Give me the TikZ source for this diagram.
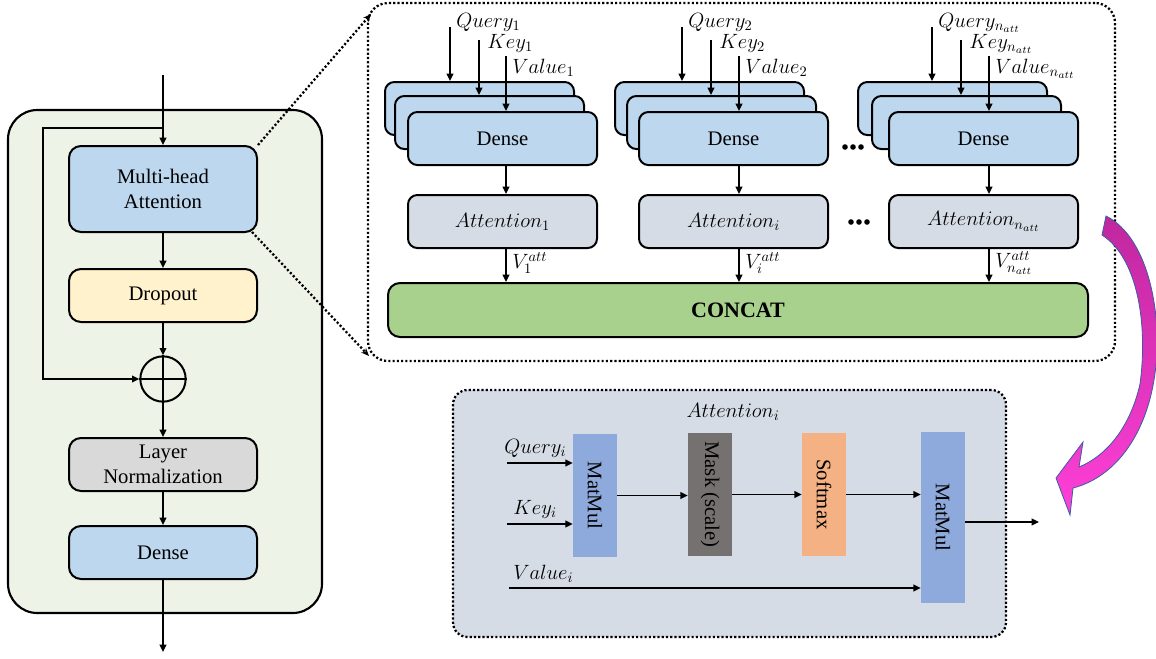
\RequirePackage{fix-cm}
\documentclass[tikz,border=0pt]{standalone}
\usepackage{fontspec}
\setmainfont{Liberation Serif}
\usepackage{graphicx}
\usetikzlibrary{arrows.meta,fit,calc}

\definecolor{panelgreen}{HTML}{EEF3E8}
\definecolor{denseblue}{HTML}{BDD7EE}
\definecolor{dropyellow}{HTML}{FFF2CC}
\definecolor{normgray}{HTML}{D9D9D9}
\definecolor{attgray}{HTML}{D6DCE5}
\definecolor{concatgreen}{HTML}{A9D18E}
\definecolor{matblue}{HTML}{8EA9DB}
\definecolor{maskgray}{HTML}{767171}
\definecolor{softorange}{HTML}{F4B183}
\definecolor{swooshtop}{HTML}{C0279E}
\definecolor{swooshbot}{HTML}{FF40D8}
\definecolor{swooshedge}{HTML}{3B5BA5}

\newcommand\bodyfont{\fontsize{15.5}{19}\selectfont}
\newcommand\catfont{\fontsize{16.5}{19}\selectfont\bfseries}

\tikzset{
  blk/.style={draw, line width=1.5pt, rounded corners=9pt, inner sep=0pt},
  dbox/.style={blk, fill=denseblue, rounded corners=7pt},
  abox/.style={blk, fill=attgray, rounded corners=7pt},
  sbox/.style={inner sep=0pt},
  arr/.style={line width=1.3pt, -{Triangle[length=5.5pt,width=5pt]}},
  plain/.style={line width=1.3pt},
  dotline/.style={line width=1.7pt, dash pattern=on 1.6pt off 1.6pt},
  dotarr/.style={dotline, -{Stealth[length=6pt,width=5pt]}},
  lbl/.style={font=\bodyfont, inner sep=0pt, align=center},
}

\begin{document}
\begin{tikzpicture}[x=0.75pt,y=-0.75pt]
\useasboundingbox (0,0) rectangle (1156,658);

% ---------------- encoder block (left) ----------------
\node[draw, line width=1.6pt, rounded corners=22pt, fill=panelgreen, inner sep=0pt,
      fit={(8,110)(322,613)}] (enc) {};
\node[blk, fill=denseblue,  fit={(69,146)(257,232)}] (mha) {};
\node[blk, fill=dropyellow, fit={(69,269)(257,322)}] (drop) {};
\node[draw, line width=1.5pt, circle, minimum size=34pt, inner sep=0pt] (plus) at (163,379) {};
\node[blk, fill=normgray,   fit={(69,438)(257,491)}] (ln) {};
\node[blk, fill=denseblue,  fit={(69,526)(257,579)}] (dense) {};

\node[lbl] (mhat)   at (mha)   {Multi-head\\Attention};
\node[lbl] (dropt)  at (drop)  {Dropout};
\node[lbl] (lnt)    at (ln)    {Layer\\Normalization};
\node[lbl] (denset) at (dense) {Dense};

\coordinate (in)   at (163,75);
\coordinate (out)  at (163,652);
\coordinate (junc) at (163,128);
\coordinate (skip) at (43,128);

\draw[arr] (in) -- (mha);
\draw[arr] (junc) -- (skip) |- (plus.west);
\draw[arr] (mha) -- (drop);
\draw[arr] (drop) -- (plus.north);
\draw[plain] (plus.north) -- (plus.south) (plus.west) -- (plus.east);
\draw[arr] (plus.south) -- (ln);
\draw[arr] (ln) -- (dense);
\draw[arr] (dense) -- (out);

% ---------------- multi-head attention detail (top right) ----------------
\node[dotline, draw, rounded corners=15pt, inner sep=0pt, fit={(368,3)(1115,361)}] (mhp) {};
\coordinate (zt) at (371,14);
\coordinate (zb) at (369,356);
\draw[dotarr] (mha.north east) -- (zt);
\draw[dotarr] ($(mha.south east)+(-6,-1)$) -- (zb);

\node[blk, fill=concatgreen, fit={(388,283)(1088,337)}] (cat) {};
\node[lbl, font=\catfont] (catt) at (cat) {CONCAT};

\foreach \g/\fx/\ox/\mx/\qx/\kx/\vx/\s/\as in
  {1/408/23/13/450/479/506/{1}/{1},
   2/639/24/12/682/711/739/{2}/{i},
   3/889/31/17/932/961/989/{n_{att}}/{n_{att}}}{
  \node[dbox, fit={(\fx-\ox,82)(\fx-\ox+189,135)}] (back\g) {};
  \node[dbox, fit={(\fx-\mx,96)(\fx-\mx+189,149)}] (mid\g) {};
  \node[dbox, fit={(\fx,112)(\fx+189,165)}] (front\g) {};
  \node[lbl] (frontt\g) at (front\g) {Dense};
  \node[abox, fit={(\fx,195)(\fx+189,248)}] (att\g) {};
  \node[lbl] (attt\g) at (att\g) {$Attention_{\as}$};
  \coordinate (qs\g) at (\qx,27);
  \coordinate (ks\g) at (\kx,40);
  \coordinate (vs\g) at (\vx,56);
  \draw[arr] (qs\g) -- (qs\g |- back\g.north);
  \draw[arr] (ks\g) -- (ks\g |- mid\g.north);
  \draw[arr] (vs\g) -- (vs\g |- front\g.north);
  \node[lbl, anchor=base west] (ql\g) at (\qx+6,27) {$Query_{\s}$};
  \node[lbl, anchor=base west] (kl\g) at (\kx+8,48) {$Key_{\s}$};
  \node[lbl, anchor=base west] (vl\g) at (\vx+6,73) {$Value_{\s}$};
  \draw[arr] (vs\g |- front\g.south) -- (vs\g |- att\g.north);
  \draw[arr] (vs\g |- att\g.south) -- (vs\g |- cat.north);
  \node[lbl, anchor=west] (vo\g) at (\vx+6,263) {$V_{\as}^{att}$};
}

% ellipses between the second and last head
\foreach \dx in {0,8,16}{
  \fill (845+\dx,147) circle[radius=2.1pt];
  \fill (851+\dx,222) circle[radius=2.1pt];
}

% ---------------- single attention head (bottom) ----------------
\node[dotline, draw, fill=attgray, rounded corners=11pt, inner sep=0pt,
      fit={(453,390)(1006,637)}] (attp) {};
\node[lbl] (attpt) at (733,412) {$Attention_i$};

\node[sbox, fill=matblue,    fit={(573,434)(617,557)}] (mm1)  {};
\node[sbox, fill=maskgray,   fit={(688,433)(732,556)}] (mask) {};
\node[sbox, fill=softorange, fit={(802,433)(846,556)}] (soft) {};
\node[sbox, fill=matblue,    fit={(921,432)(965,603)}] (mm2)  {};
\node[lbl, rotate=-90] (mm1t)  at (mm1)  {MatMul};
\node[lbl, rotate=-90] (maskt) at (mask) {Mask (scale)};
\node[lbl, rotate=-90] (softt) at (soft) {Softmax};
\node[lbl, rotate=-90] (mm2t)  at (mm2)  {MatMul};

\coordinate (qi) at (507,463);
\coordinate (ki) at (507,524);
\coordinate (vi) at (509,588);
\coordinate (ao) at (1039,522);

\node[lbl, anchor=base west] (qil) at (504,453) {$Query_i$};
\node[lbl, anchor=base west] (kil) at (513,514) {$Key_i$};
\node[lbl, anchor=base west] (vil) at (513,579) {$Value_i$};

\draw[arr] (qi) -- (qi -| mm1.west);
\draw[arr] (ki) -- (ki -| mm1.west);
\draw[arr] (mm1.east) -- (mm1.east -| mask.west);
\draw[arr] (mask.east) -- (mask.east -| soft.west);
\draw[arr] (soft.east) -- (soft.east -| mm2.west);
\draw[arr] (vi) -- (vi -| mm2.west);
\draw[arr] (mm2.east |- ao) -- (ao);

% ---------------- curved pointer from the heads to the single head ----------------
\draw[top color=swooshtop, bottom color=swooshbot, draw=swooshedge, line width=0.6pt]
  (1106,216) .. controls (1150,238) and (1164,320) .. (1154,380)
  .. controls (1144,440) and (1112,478) .. (1073,488)
  -- (1070,515) -- (1056,478) -- (1083,442) -- (1079,467)
  .. controls (1106,456) and (1130,428) .. (1140,384)
  .. controls (1148,325) and (1138,258) .. (1102,235) -- cycle;

\end{tikzpicture}
\end{document}
